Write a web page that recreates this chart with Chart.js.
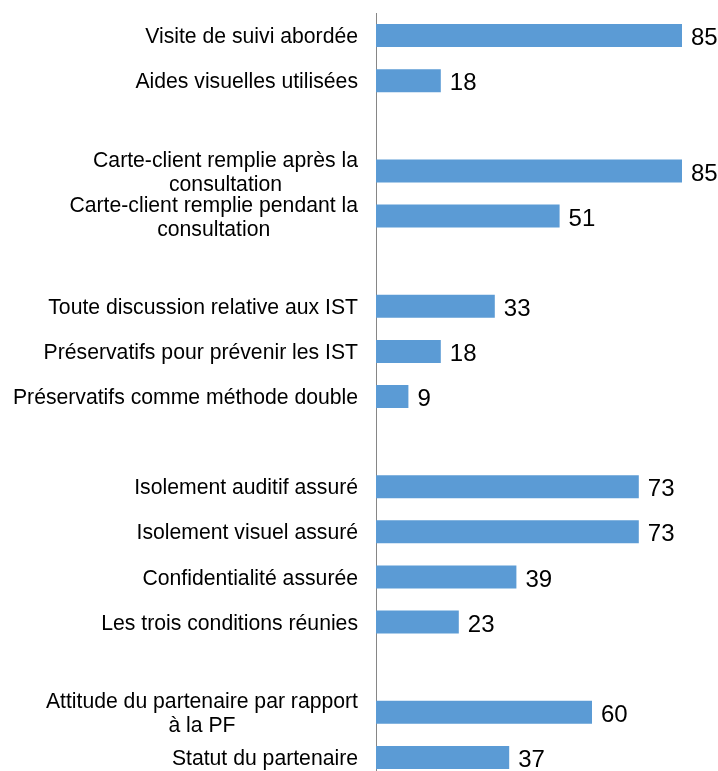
<!DOCTYPE html>
<html>
<head>
<meta charset="utf-8">
<script src="https://cdn.jsdelivr.net/npm/chart.js@4.4.0/dist/chart.umd.min.js"></script>
<style>
  html, body { margin: 0; padding: 0; background: #fff; }
  #wrap { width: 718px; height: 771px; overflow: hidden; }
  canvas { display: block; }
</style>
</head>
<body>
<div id="wrap">
  <canvas id="myChart" width="718" height="781" style="width:718px;height:781px"></canvas>
</div>
<script>
// empty strings / null are the spacer rows between groups
const categories = [
  'Visite de suivi abordée',
  'Aides visuelles utilisées',
  '',
  ['Carte-client remplie après la', 'consultation'],
  ['Carte-client remplie pendant la', 'consultation'],
  '',
  'Toute discussion relative aux IST',
  'Préservatifs pour prévenir les IST',
  'Préservatifs comme méthode double',
  '',
  'Isolement auditif assuré',
  'Isolement visuel assuré',
  'Confidentialité assurée',
  'Les trois conditions réunies',
  '',
  ['Attitude du partenaire par rapport', 'à la PF'],
  'Statut du partenaire'
];
const values = [85, 18, null, 85, 51, null, 33, 18, 9, null, 73, 73, 39, 23, null, 60, 37];

const FONT = '"Liberation Sans", Arial, sans-serif';
const LABEL_SIZE = 21.2;
const VALUE_SIZE = 24;

// category labels: block right-aligned, lines centered on each other
const labelPlugin = {
  id: 'labels',
  afterDraw(chart) {
    const ctx = chart.ctx;
    const yScale = chart.scales.y;
    const right = 358;
    ctx.save();
    ctx.font = LABEL_SIZE + 'px ' + FONT;
    ctx.fillStyle = '#000';
    ctx.textAlign = 'center';
    ctx.textBaseline = 'alphabetic';
    categories.forEach((lab, i) => {
      const lines = Array.isArray(lab) ? lab : [lab];
      if (!lines[0]) return;
      const w = Math.max(...lines.map(l => ctx.measureText(l).width));
      const cx = right - w / 2;
      const y = yScale.getPixelForTick(i);
      lines.forEach((l, j) => {
        const ly = y + (j - (lines.length - 1) / 2) * 24;
        ctx.fillText(l, cx, ly + LABEL_SIZE * 0.358);
      });
    });
    ctx.restore();
  }
};

// value labels at the end of each bar
const valuePlugin = {
  id: 'values',
  afterDatasetsDraw(chart) {
    const ctx = chart.ctx;
    const meta = chart.getDatasetMeta(0);
    ctx.save();
    ctx.font = VALUE_SIZE + 'px ' + FONT;
    ctx.fillStyle = '#000';
    ctx.textAlign = 'left';
    ctx.textBaseline = 'alphabetic';
    meta.data.forEach((bar, i) => {
      if (values[i] == null) return;
      ctx.fillText(String(values[i]), bar.x + 9, bar.y + VALUE_SIZE * 0.358 + 1);
    });
    ctx.restore();
  }
};

const ctx = document.getElementById('myChart').getContext('2d');
new Chart(ctx, {
  type: 'bar',
  data: {
    labels: categories,
    datasets: [{
      data: values,
      backgroundColor: '#5B9BD5',
      borderWidth: 0,
      barPercentage: 0.51,
      categoryPercentage: 1
    }]
  },
  options: {
    indexAxis: 'y',
    responsive: false,
    animation: false,
    devicePixelRatio: 1,
    layout: { padding: { top: 13, right: 18, bottom: 1, left: 0 } },
    plugins: {
      legend: { display: false },
      tooltip: { enabled: false }
    },
    scales: {
      x: {
        display: false,
        min: 0,
        max: 90
      },
      y: {
        type: 'category',
        grid: { display: false, drawTicks: false },
        border: { display: true, color: '#868686', width: 1 },
        ticks: { display: false },
        afterFit(scale) { scale.width = 376; }
      }
    }
  },
  plugins: [labelPlugin, valuePlugin]
});
</script>
</body>
</html>
